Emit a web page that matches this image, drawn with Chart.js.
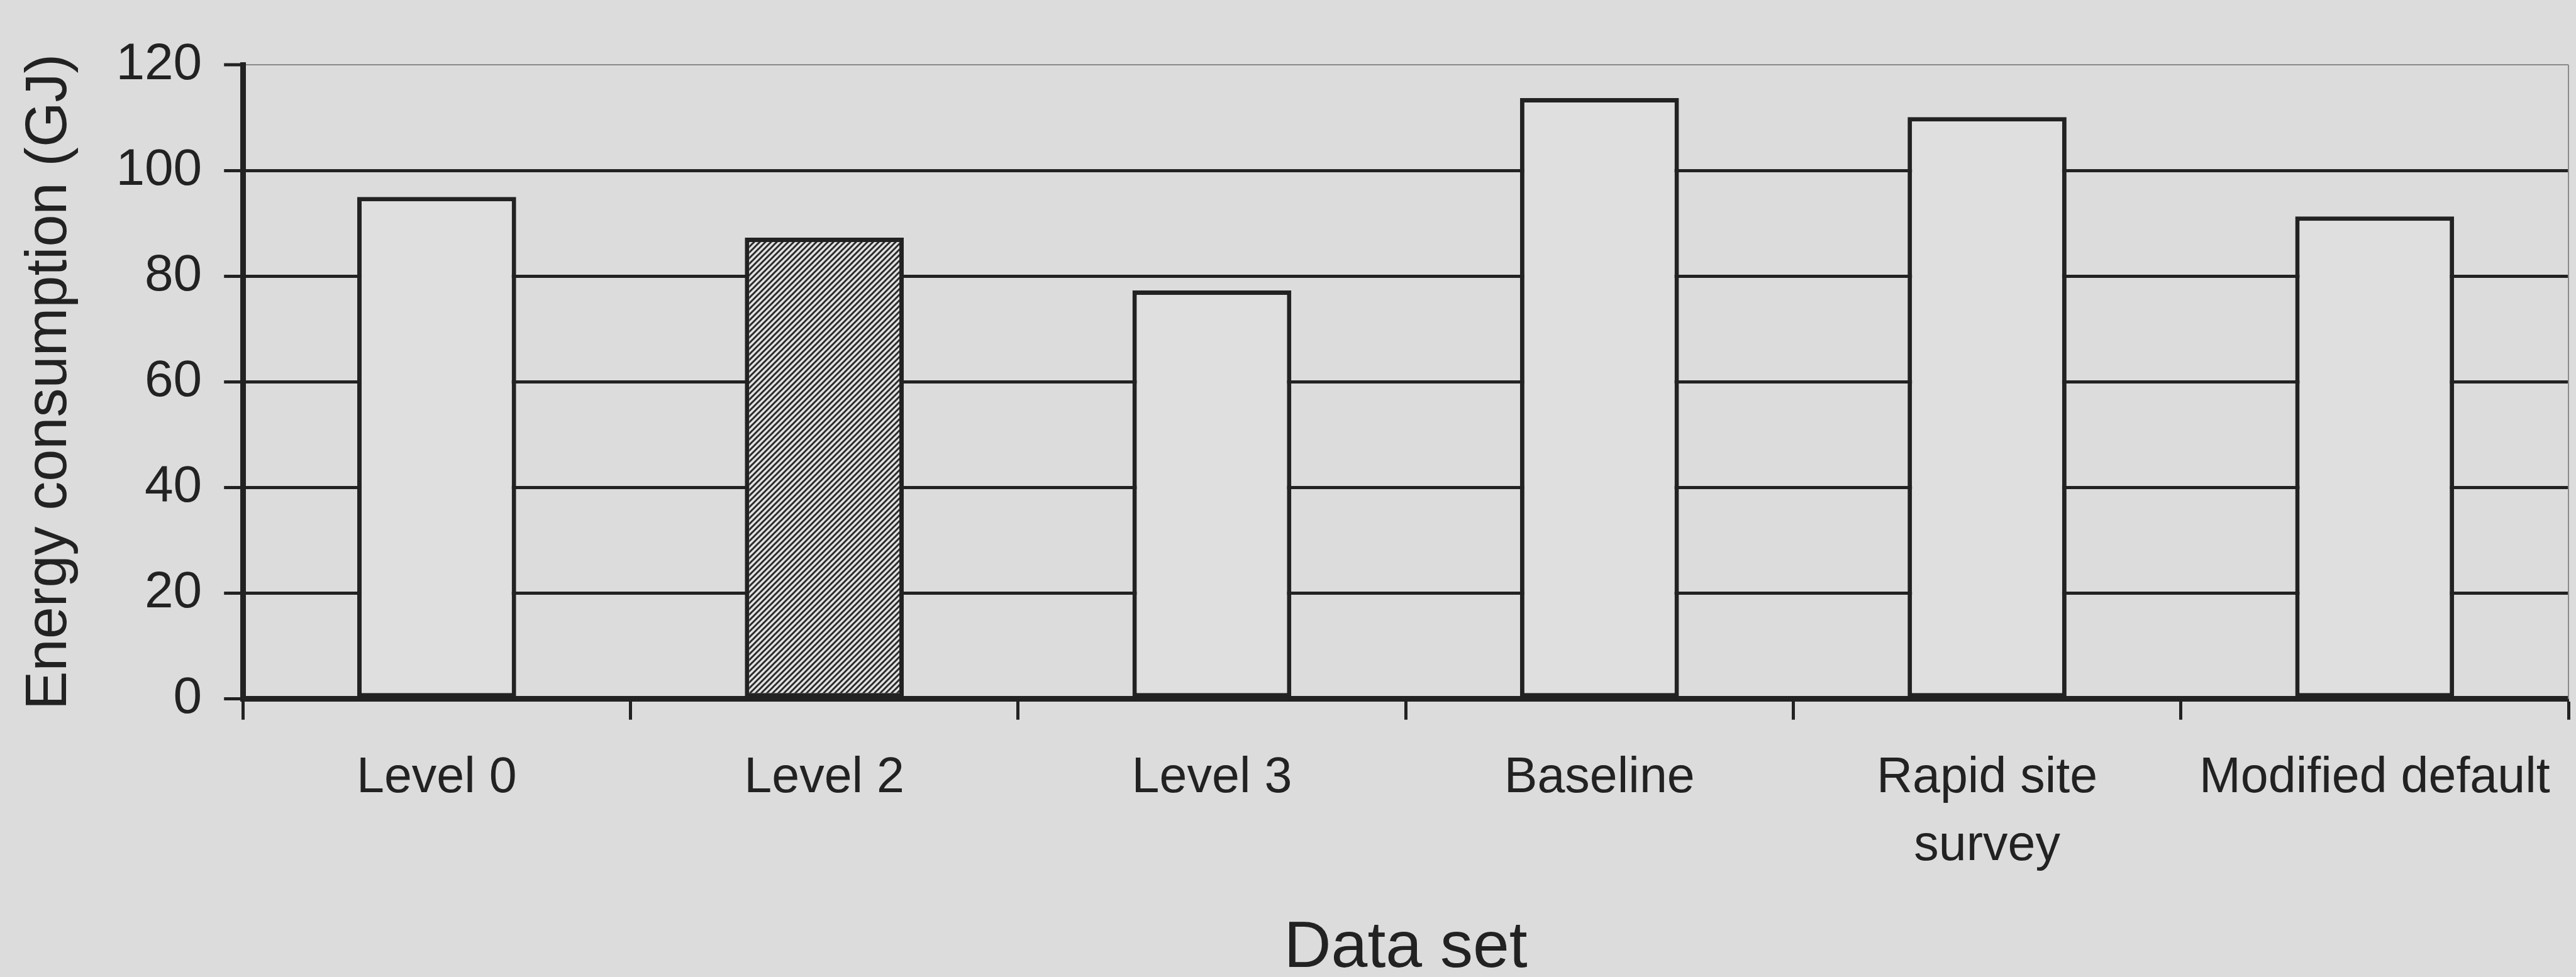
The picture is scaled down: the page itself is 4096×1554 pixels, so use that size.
<!DOCTYPE html>
<html>
<head>
<meta charset="utf-8">
<script src="https://cdn.jsdelivr.net/npm/chart.js@4.4.1/dist/chart.umd.min.js"></script>
<style>
  html, body { margin: 0; padding: 0; background: #dcdcdc; }
  #wrap { width: 4096px; height: 1554px; }
</style>
</head>
<body>
<div id="wrap"><canvas id="energyChart" width="4096" height="1554"></canvas></div>
<script>
// values
const categories = ['Level 0', 'Level 2', 'Level 3', 'Baseline', ['Rapid site', 'survey'], 'Modified default'];
const energyGJ = [95, 87.3, 77.3, 113.7, 110.1, 91.3];
const hatched = [false, true, false, false, false, false];
const yTicks = [0, 20, 40, 60, 80, 100, 120];

const ink = '#222222';
const paper = '#dcdcdc';

// diagonal hatch for the Level 2 bar
function makeHatch() {
  const s = 9;
  const c = document.createElement('canvas');
  c.width = s;
  c.height = s;
  const g = c.getContext('2d');
  g.fillStyle = '#e2e2e2';
  g.fillRect(0, 0, s, s);
  g.strokeStyle = '#2a2a2a';
  g.lineWidth = 3;
  g.beginPath();
  g.moveTo(0, s); g.lineTo(s, 0);
  g.moveTo(-s / 2, s / 2); g.lineTo(s / 2, -s / 2);
  g.moveTo(s / 2, s * 1.5); g.lineTo(s * 1.5, s / 2);
  g.stroke();
  return g.createPattern(c, 'repeat');
}

const ctx = document.getElementById('energyChart').getContext('2d');
const hatch = makeHatch();

const paperBg = {
  id: 'paperBg',
  beforeDraw(chart) {
    const c = chart.ctx;
    c.save();
    c.fillStyle = paper;
    c.fillRect(0, 0, chart.width, chart.height);
    c.restore();
  }
};

// thin plot-area frame on the right
const plotFrame = {
  id: 'plotFrame',
  beforeDatasetsDraw(chart) {
    const a = chart.chartArea;
    const c = chart.ctx;
    c.save();
    c.strokeStyle = '#8a8a8a';
    c.lineWidth = 2;
    c.beginPath();
    c.moveTo(a.right, a.top);
    c.lineTo(a.right, a.bottom);
    c.stroke();
    c.restore();
  }
};

Chart.defaults.font.family = '"Liberation Sans", Arial, sans-serif';
Chart.defaults.color = ink;

new Chart(ctx, {
  type: 'bar',
  data: {
    labels: categories,
    datasets: [{
      label: 'Energy consumption',
      data: energyGJ,
      backgroundColor: hatched.map(h => (h ? hatch : '#dfdfdf')),
      borderColor: ink,
      borderWidth: 7,
      borderSkipped: false,
      categoryPercentage: 1,
      barPercentage: 0.41
    }]
  },
  options: {
    responsive: false,
    animation: false,
    layout: { padding: { top: 103, right: 12, left: 0, bottom: 0 } },
    plugins: {
      legend: { display: false },
      tooltip: { enabled: false }
    },
    scales: {
      x: {
        grid: {
          offset: true,
          drawOnChartArea: false,
          drawTicks: true,
          tickLength: 33,
          tickColor: ink,
          tickWidth: 5
        },
        border: { display: true, color: ink, width: 9 },
        ticks: {
          padding: 40,
          maxRotation: 0,
          autoSkip: false,
          font: { size: 79, lineHeight: 1.36 }
        },
        title: {
          display: true,
          text: 'Data set',
          font: { size: 104, lineHeight: 0.85 },
          padding: { top: 26, bottom: 0 }
        }
      },
      y: {
        min: 0,
        max: 120,
        afterBuildTicks: axis => {
          axis.ticks = yTicks.map(v => ({ value: v }));
        },
        grid: {
          color: c => (c.tick && c.tick.value === 120 ? '#8a8a8a' : ink),
          lineWidth: c => (c.tick && c.tick.value === 120 ? 2 : 5),
          tickColor: ink,
          tickWidth: 5,
          tickLength: 30
        },
        border: { display: true, color: ink, width: 9 },
        ticks: {
          padding: 35,
          font: { size: 82 }
        },
        title: {
          display: true,
          text: 'Energy consumption (GJ)',
          font: { size: 92, lineHeight: 1.2 },
          padding: { top: 24, bottom: 15 }
        }
      }
    }
  },
  plugins: [paperBg, plotFrame]
});
</script>
</body>
</html>
